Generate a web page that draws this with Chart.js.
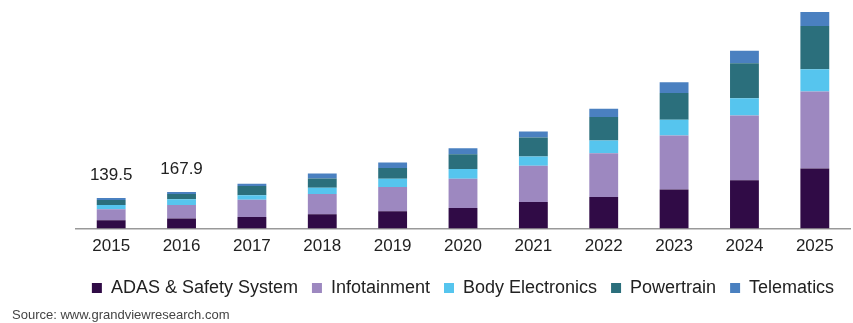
<!DOCTYPE html>
<html>
<head>
<meta charset="utf-8">
<script src="https://cdn.jsdelivr.net/npm/chart.js@4"></script>
<style>
  html, body { margin: 0; padding: 0; background: #fff; }
  #wrap { position: relative; width: 853px; height: 323px; }
  #source { position: absolute; left: 12px; top: 307px; font: 13px "Liberation Sans", Arial, sans-serif; color: #444; }
</style>
</head>
<body>
<div id="wrap">
  <canvas id="chart" width="853" height="323"></canvas>
  <div id="source">Source: www.grandviewresearch.com</div>
</div>
<script>
var years = ["2015", "2016", "2017", "2018", "2019", "2020", "2021", "2022", "2023", "2024", "2025"];

// USD billion
var adas = [38, 46, 53, 65, 79, 94.6, 122, 144.5, 179.6, 222, 275.6];
var infotainment = [50, 62, 79, 93, 111.5, 134, 166, 201, 247, 297, 353];
var bodyElectronics = [19.5, 26, 21, 29, 38, 44, 42.5, 58, 73, 79.5, 102];
var powertrain = [23, 24, 42, 42.5, 49, 68.5, 87, 108, 122, 160, 199];
var telematics = [9, 9.9, 11, 23, 25.6, 27.4, 27.4, 38, 50, 57.6, 64];

var totalLabels = ["139.5", "167.9", "", "", "", "", "", "", "", "", ""];

var totalsPlugin = {
  id: 'totals',
  afterDatasetsDraw: function(chart) {
    var ctx = chart.ctx;
    var last = chart.getDatasetMeta(chart.data.datasets.length - 1);
    ctx.save();
    ctx.font = '17px "Liberation Sans", Arial, sans-serif';
    ctx.fillStyle = '#222';
    ctx.textAlign = 'center';
    ctx.textBaseline = 'middle';
    last.data.forEach(function(bar, i) {
      if (totalLabels[i]) ctx.fillText(totalLabels[i], bar.x, bar.y - 23);
    });
    ctx.restore();
  }
};

Chart.defaults.font.family = '"Liberation Sans", Arial, sans-serif';

new Chart('chart', {
  type: 'bar',
  data: {
    labels: years,
    datasets: [
      { label: "ADAS & Safety System", data: adas, backgroundColor: "#300b46" },
      { label: "Infotainment", data: infotainment, backgroundColor: "#9d88c0" },
      { label: "Body Electronics", data: bodyElectronics, backgroundColor: "#56c5ee" },
      { label: "Powertrain", data: powertrain, backgroundColor: "#2b6f7c" },
      { label: "Telematics", data: telematics, backgroundColor: "#4a80c0" }
    ]
  },
  options: {
    responsive: false,
    animation: false,
    layout: { padding: { left: 76, right: 3, top: 5, bottom: 16 } },
    datasets: { bar: { categoryPercentage: 0.41, barPercentage: 1 } },
    plugins: {
      tooltip: { enabled: false },
      legend: {
        position: 'bottom',
        labels: {
          boxWidth: 10,
          boxHeight: 10,
          padding: 14,
          color: '#222',
          font: { size: 18 }
        }
      }
    },
    scales: {
      x: {
        stacked: true,
        grid: { display: false, drawTicks: false },
        border: { display: true, color: '#999', width: 1.5 },
        ticks: { color: '#222', font: { size: 17 }, padding: 8 },
        afterFit: function(scale) { scale.height = 36.5; }
      },
      y: {
        stacked: true,
        display: false,
        min: 0,
        max: 1026
      }
    }
  },
  plugins: [totalsPlugin]
});
</script>
</body>
</html>
